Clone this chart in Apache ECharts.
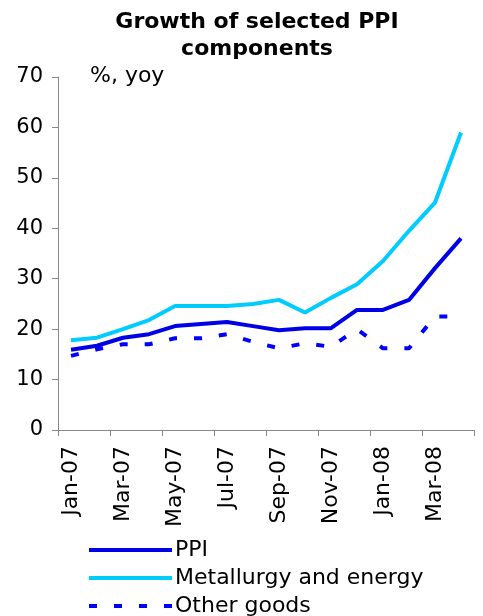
<!DOCTYPE html>
<html>
<head>
<meta charset="utf-8">
<script src="https://cdn.jsdelivr.net/npm/echarts@6/dist/echarts.min.js"></script>
<style>
html,body{margin:0;padding:0;background:#fff;}
#chart{width:483px;height:616px;}
</style>
</head>
<body>
<div id="chart"></div>
<script>
var categories = ['Jan-07','Feb-07','Mar-07','Apr-07','May-07','Jun-07','Jul-07','Aug-07','Sep-07','Oct-07','Nov-07','Dec-07','Jan-08','Feb-08','Mar-08','Apr-08'];
var ppi = [15.9, 16.7, 18.3, 19.0, 20.6, 21.0, 21.4, 20.6, 19.8, 20.2, 20.2, 23.8, 23.8, 25.8, 32.1, 38.0];
var metallurgy = [17.8, 18.3, 20.0, 21.8, 24.6, 24.6, 24.6, 25.0, 25.8, 23.3, 26.2, 28.9, 33.5, 39.5, 45.1, 59.0];
var otherGoods = [14.7, 16.0, 17.0, 17.0, 18.2, 18.2, 19.0, 17.5, 16.2, 17.2, 16.5, 20.0, 16.2, 16.2, 22.5, 22.5];
var seriesNames = ['PPI', 'Metallurgy and energy', 'Other goods'];

var FONT = 'DejaVu Sans';
var chart = echarts.init(document.getElementById('chart'), null, {renderer: 'canvas'});
chart.setOption({
  backgroundColor: '#ffffff',
  animation: false,
  title: {
    text: 'Growth of selected PPI\ncomponents',
    left: 252,
    top: 4,
    textAlign: 'center',
    textStyle: {fontFamily: FONT, fontWeight: 'bold', fontSize: 22, lineHeight: 27, color: '#000'}
  },
  graphic: [{
    type: 'text',
    left: 90,
    top: 65,
    style: {text: '%, yoy', font: '22px "DejaVu Sans"', fill: '#000'}
  }],
  legend: {
    orient: 'vertical',
    left: 87,
    top: 539,
    height: 100,
    padding: 0,
    itemWidth: 83,
    itemHeight: 4,
    itemGap: 6,
    itemStyle: {opacity: 0},
    lineStyle: {width: 4},
    textStyle: {fontFamily: FONT, fontSize: 22, color: '#000', padding: [0, 0, 0, -2]},
    data: seriesNames
  },
  grid: {left: 58, right: 9, top: 77, bottom: 186, containLabel: false},
  xAxis: {
    type: 'category',
    data: categories,
    boundaryGap: true,
    axisLine: {lineStyle: {color: '#888', width: 1}},
    axisTick: {show: true, interval: 1, length: 6, lineStyle: {color: '#888'}},
    axisLabel: {interval: 1, rotate: 90, margin: 16, fontFamily: FONT, fontSize: 22, color: '#000'},
    splitLine: {show: false}
  },
  yAxis: {
    type: 'value',
    min: 0,
    max: 70,
    interval: 10,
    axisLine: {show: true, lineStyle: {color: '#888', width: 1}},
    axisTick: {show: true, length: 6, lineStyle: {color: '#888'}},
    axisLabel: {margin: 15, fontFamily: FONT, fontSize: 21, color: '#000'},
    splitLine: {show: false}
  },
  series: [
    {name: seriesNames[0], type: 'line', data: ppi, symbol: 'none', lineStyle: {color: '#0000e6', width: 4}, itemStyle: {color: '#0000e6'}},
    {name: seriesNames[1], type: 'line', data: metallurgy, symbol: 'none', lineStyle: {color: '#00ccff', width: 4}, itemStyle: {color: '#00ccff'}},
    {name: seriesNames[2], type: 'line', data: otherGoods, symbol: 'none', lineStyle: {color: '#0000ff', width: 4, type: [8, 17], cap: 'butt'}, itemStyle: {color: '#0000ff'}}
  ]
});
</script>
</body>
</html>
